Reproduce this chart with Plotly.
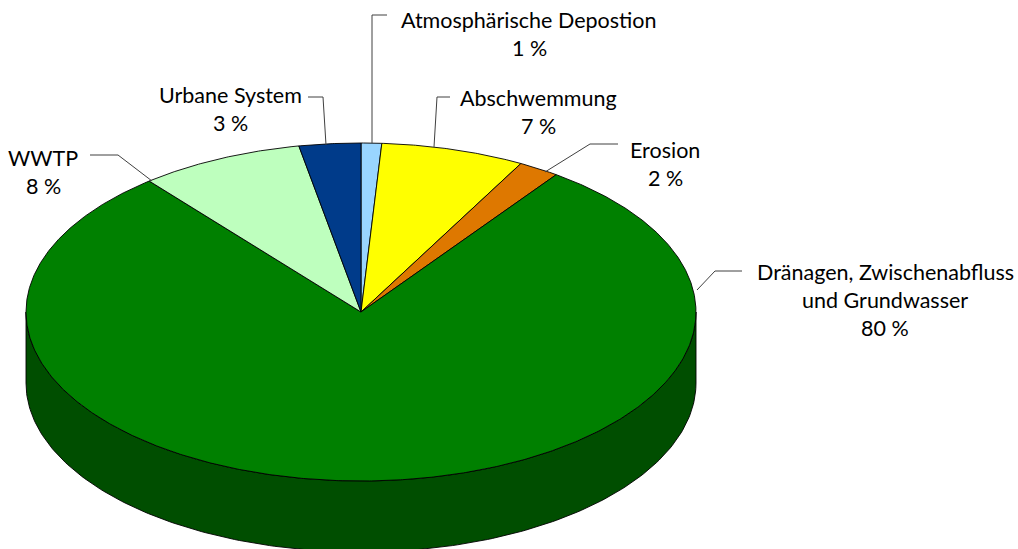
import numpy as np
import plotly.graph_objects as go

# Anteile der Eintragspfade (in %), im Uhrzeigersinn ab 12 Uhr
categories = ["Atmosphärische Depostion", "Abschwemmung", "Erosion",
              "Dränagen, Zwischenabfluss und Grundwasser", "WWTP", "Urbane System"]
values = [1, 7, 2, 80, 8, 3]
colors = ["#99D5FF", "#FFFF00", "#DE7800", "#008000", "#BEFFBE", "#003B8A"]
side_colors = ["#5F8FAF", "#A0A000", "#8A4A00", "#004E00", "#7AA07A", "#00244F"]

W, H = 1018, 549
cx, cy = 361, 312          # Mittelpunkt der Deckfläche
rx, ry = 335, 169          # Halbachsen der Ellipse
depth = 71                 # Höhe der Seitenwand


def rim(theta_deg, dy=0.0):
    t = np.radians(theta_deg)
    return cx + rx * np.sin(t), cy - ry * np.cos(t) + dy


total = float(sum(values))
bounds = np.concatenate([[0.0], np.cumsum(values) / total * 360.0])

fig = go.Figure()

# Seitenwand: nur der vordere Halbring (90°..270°) ist sichtbar
for i in range(len(values)):
    a0, a1 = max(bounds[i], 90.0), min(bounds[i + 1], 270.0)
    if a1 <= a0:
        continue
    th = np.linspace(a0, a1, 200)
    xt, yt = rim(th)
    xb, yb = rim(th[::-1], depth)
    fig.add_trace(go.Scatter(
        x=np.concatenate([xt, xb, xt[:1]]), y=np.concatenate([yt, yb, yt[:1]]),
        mode="lines", fill="toself", fillcolor=side_colors[i],
        line=dict(color="black", width=0.9), hoverinfo="skip", showlegend=False))

# Deckfläche: Tortenstücke
for i in range(len(values)):
    th = np.linspace(bounds[i], bounds[i + 1], max(10, int((bounds[i + 1] - bounds[i]) * 3)))
    xs, ys = rim(th)
    fig.add_trace(go.Scatter(
        x=np.concatenate([[cx], xs, [cx]]), y=np.concatenate([[cy], ys, [cy]]),
        mode="lines", fill="toself", fillcolor=colors[i],
        line=dict(color="black", width=0.9), hoverinfo="skip", showlegend=False,
        name=categories[i]))

# Beschriftungen: Textzeilen (x, y-Startwert) und Führungslinien
label_lines = [
    ["Atmosphärische Depostion"],
    ["Abschwemmung"],
    ["Erosion"],
    ["Dränagen, Zwischenabfluss", "und Grundwasser"],
    ["WWTP"],
    ["Urbane System"],
]
label_pos = [(529, 20), (538, 98), (665, 150), (885, 272), (43, 158), (230, 95)]
leaders = [
    ([372, 372, 387], [143, 15, 15]),
    ([434, 437, 450], [147, 97, 97]),
    ([545, 590, 618], [172, 144, 144]),
    ([697, 715, 742], [290, 271, 271]),
    ([152, 118, 90], [181, 155, 155]),
    ([326, 323, 308], [145, 97, 97]),
]
line_h = 28

for i, lines in enumerate(label_lines):
    x0, y0 = label_pos[i]
    texts = lines + [f"{values[i]} %"]
    for k, t in enumerate(texts):
        fig.add_annotation(x=x0, y=y0 + k * line_h, text=t, showarrow=False,
                           xref="x", yref="y", xanchor="center", yanchor="middle",
                           font=dict(family="Lato, Carlito, sans-serif", size=21.5, color="black"))
    lx, ly = leaders[i]
    fig.add_trace(go.Scatter(x=lx, y=ly, mode="lines",
                             line=dict(color="#404040", width=1),
                             hoverinfo="skip", showlegend=False))

fig.update_xaxes(range=[0, W], visible=False, fixedrange=True)
fig.update_yaxes(range=[H, 0], visible=False, fixedrange=True)
fig.update_layout(width=W, height=H, margin=dict(l=0, r=0, t=0, b=0),
                  paper_bgcolor="white", plot_bgcolor="white")

fig.write_html("out.html")
